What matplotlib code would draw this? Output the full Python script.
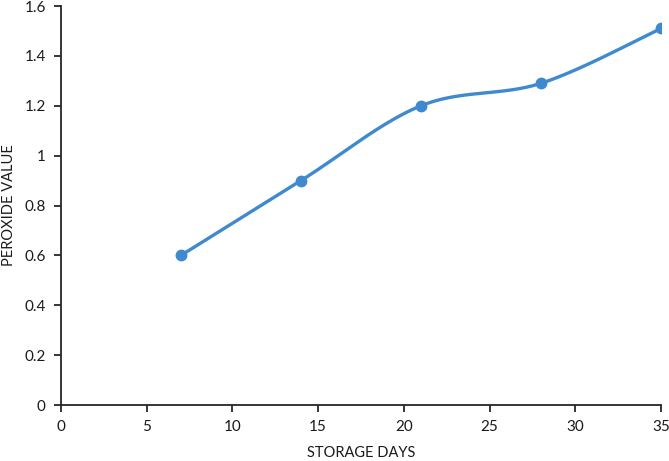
import numpy as np
import matplotlib
matplotlib.use("Agg")
import matplotlib.pyplot as plt

days = [7, 14, 21, 28, 35]
peroxide = [0.6, 0.9, 1.2, 1.29, 1.51]
xticks = [0, 5, 10, 15, 20, 25, 30, 35]
yticks = [0, 0.2, 0.4, 0.6, 0.8, 1.0, 1.2, 1.4, 1.6]
ytick_labels = ["0", "0.2", "0.4", "0.6", "0.8", "1", "1.2", "1.4", "1.6"]

color = "#3F89CF"
plt.rcParams['font.family'] = ['Lato', 'DejaVu Sans']

def smooth(xs, ys, n=40):
    P = np.column_stack([xs, ys]).astype(float)
    ext = np.vstack([P[0], P, P[-1]])
    out = []
    for i in range(len(P) - 1):
        p0, p1, p2, p3 = ext[i], ext[i + 1], ext[i + 2], ext[i + 3]
        c1 = p1 + (p2 - p0) / 6.0
        c2 = p2 - (p3 - p1) / 6.0
        t = np.linspace(0, 1, n)[:, None]
        seg = ((1 - t) ** 3) * p1 + 3 * ((1 - t) ** 2) * t * c1 + 3 * (1 - t) * t ** 2 * c2 + t ** 3 * p2
        out.append(seg if i == 0 else seg[1:])
    s = np.vstack(out)
    return s[:, 0], s[:, 1]

fig = plt.figure(figsize=(6.69, 4.61), dpi=100)
ax = fig.add_axes([61 / 669, 56 / 461, 600 / 669, 399 / 461])
sx, sy = smooth(days, peroxide)
ax.plot(sx, sy, color=color, lw=2.4, solid_capstyle='round')
ax.plot(days, peroxide, 'o', color=color, ms=7.5)
ax.set_xlim(0, 35)
ax.set_ylim(0, 1.6)
ax.set_xticks(xticks)
ax.set_yticks(yticks)
ax.set_yticklabels(ytick_labels)
for s in ['top', 'right']:
    ax.spines[s].set_visible(False)
for s in ['left', 'bottom']:
    ax.spines[s].set_color('#262626')
    ax.spines[s].set_linewidth(1.3)
ax.tick_params(direction='out', length=5, width=1.3, color='#262626', labelsize=11, labelcolor='#1a1a1a', pad=6)
ax.set_xlabel("STORAGE DAYS", fontsize=10.5, color='#1a1a1a', va='center')
ax.set_ylabel("PEROXIDE VALUE", fontsize=10.5, color='#1a1a1a', va='center')
ax.xaxis.set_label_coords(0.5, -(453 - 405) / 399, transform=ax.transAxes)
ax.yaxis.set_label_coords(-(61 - 9) / 600, 0.5, transform=ax.transAxes)
for lab in ax.get_xticklabels() + ax.get_yticklabels():
    lab.set_clip_on(False)
fig.savefig("out.png", dpi=100)
